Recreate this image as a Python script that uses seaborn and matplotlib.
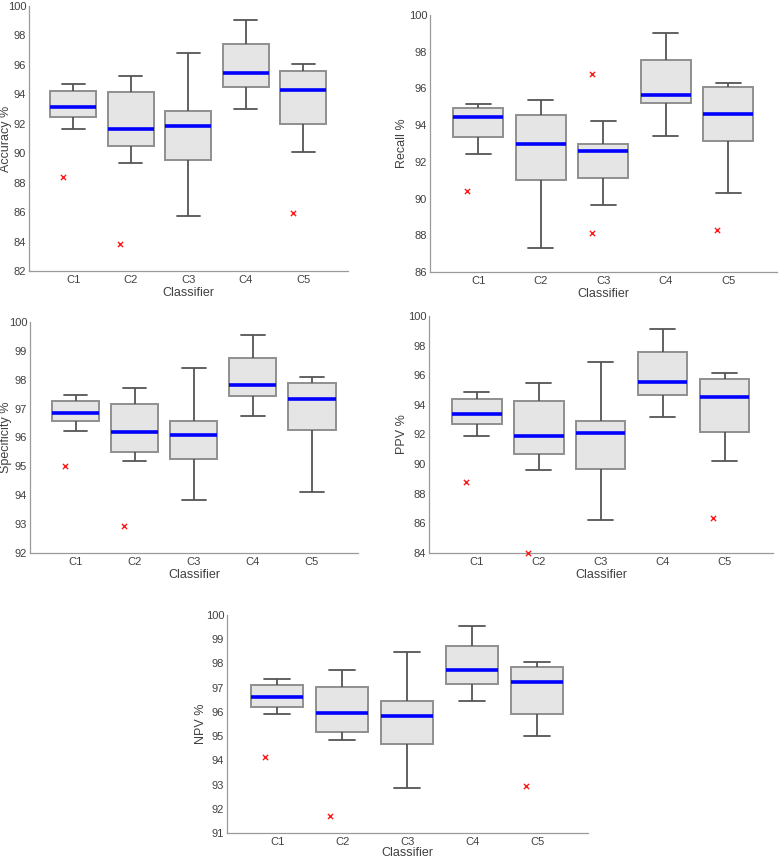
import numpy as np
import pandas as pd
import matplotlib
matplotlib.use("Agg")
import matplotlib.pyplot as plt
import seaborn as sns

sns.set_style("white")
plt.rcParams['font.family'] = ['Liberation Sans Narrow', 'Liberation Sans', 'DejaVu Sans']

classifiers = ["C1", "C2", "C3", "C4", "C5"]

# five-number summaries: [whisker low, q1, median, q3, whisker high]
acc_stats = [[91.65, 92.48, 93.16, 94.23, 94.70],
             [89.34, 90.49, 91.65, 94.16, 95.25],
             [85.71, 89.52, 91.83, 92.87, 96.81],
             [92.98, 94.50, 95.47, 97.44, 99.07],
             [90.11, 91.96, 94.32, 95.59, 96.04]]
acc_out_cls = ["C1", "C2", "C5"]
acc_out_val = [88.39, 83.81, 85.94]

rec_stats = [[92.44, 93.37, 94.43, 94.92, 95.14],
             [87.29, 91.01, 92.97, 94.54, 95.39],
             [89.64, 91.12, 92.57, 92.99, 94.23],
             [93.43, 95.19, 95.65, 97.54, 99.00],
             [90.31, 93.15, 94.59, 96.07, 96.29]]
rec_out_cls = ["C1", "C3", "C3", "C5"]
rec_out_val = [90.39, 96.80, 88.11, 88.31]

spe_stats = [[96.24, 96.56, 96.86, 97.27, 97.47],
             [95.18, 95.50, 96.20, 97.17, 97.70],
             [93.82, 95.25, 96.10, 96.56, 98.42],
             [96.74, 97.42, 97.82, 98.75, 99.55],
             [94.12, 96.25, 97.33, 97.89, 98.10]]
spe_out_cls = ["C1", "C2"]
spe_out_val = [95.00, 92.94]

ppv_stats = [[91.91, 92.70, 93.38, 94.41, 94.86],
             [89.59, 90.69, 91.93, 94.28, 95.45],
             [86.21, 89.68, 92.11, 92.90, 96.91],
             [93.17, 94.66, 95.57, 97.54, 99.12],
             [90.22, 92.18, 94.50, 95.72, 96.17]]
ppv_out_cls = ["C1", "C2", "C5"]
ppv_out_val = [88.80, 84.02, 86.39]

npv_stats = [[95.92, 96.20, 96.61, 97.09, 97.34],
             [94.82, 95.19, 95.95, 97.04, 97.71],
             [92.87, 94.67, 95.84, 96.43, 98.46],
             [96.47, 97.15, 97.71, 98.70, 99.56],
             [95.00, 95.92, 97.23, 97.84, 98.04]]
npv_out_cls = ["C1", "C2", "C5"]
npv_out_val = [94.13, 91.69, 92.96]

# label, stats, outliers, y range, tick step, axes box in px (x0, y0, x1, y1),
# y-label centre x in px, x-label pad
panels = [
    ("Accuracy %", acc_stats, acc_out_cls, acc_out_val, (82, 100), 2, [29, 6, 348, 271], 6, 1),
    ("Recall %", rec_stats, rec_out_cls, rec_out_val, (86, 100), 2, [430, 15, 777, 272], 402, 1),
    ("Specificity %", spe_stats, spe_out_cls, spe_out_val, (92, 100), 1, [30, 322, 358, 553], 6, 1),
    ("PPV %", ppv_stats, ppv_out_cls, ppv_out_val, (84, 100), 2, [429, 316, 773, 553], 402, 1),
    ("NPV %", npv_stats, npv_out_cls, npv_out_val, (91, 100), 1, [227, 615, 588, 833], 201, 0),
]

W, H = 780, 861
fig = plt.figure(figsize=(W / 100, H / 100), dpi=100)

txt = '#404040'
spine_c = '#9a9a9a'

for label, stats, out_cls, out_val, ylim, step, (x0, y0, x1, y1), lab_x, xpad in panels:
    ax = fig.add_axes([x0 / W, 1 - y1 / H, (x1 - x0) / W, (y1 - y0) / H])
    df = pd.DataFrame({
        "Classifier": np.repeat(classifiers, 5),
        "value": np.ravel(stats),
    })
    sns.boxplot(data=df, x="Classifier", y="value", order=classifiers,
                whis=(0, 100), width=0.8, color='#e5e5e5', linecolor='#555555',
                linewidth=1.3, fliersize=0,
                medianprops=dict(color='#0000ff', linewidth=2.6),
                ax=ax)
    for p in ax.patches:
        p.set_edgecolor('#8f8f8f')
        p.set_linewidth(1.4)

    out_x = [classifiers.index(c) - 0.18 for c in out_cls]
    sns.scatterplot(x=out_x, y=out_val, marker='x', color='#ff1a1a', s=14,
                    linewidth=1.0, zorder=5, clip_on=False, ax=ax)

    ax.set_xlim(-0.77, 4.78)
    ax.set_ylim(*ylim)
    ax.set_yticks(np.arange(ylim[0], ylim[1] + 0.1, step))
    ax.set_xticks(range(len(classifiers)))
    ax.set_xticklabels(classifiers)
    ax.set_xlabel("Classifier", fontsize=9, color=txt, labelpad=xpad)
    ax.set_ylabel(label, fontsize=9, color=txt, va='center')
    ax.yaxis.set_label_coords((lab_x - x0) / (x1 - x0), 0.5)
    ax.tick_params(axis='both', direction='in', length=3, width=0.8,
                   colors=spine_c, labelcolor=txt, labelsize=8)
    ax.tick_params(axis='y', pad=2)
    ax.tick_params(axis='x', pad=3)
    for s in ['top', 'right']:
        ax.spines[s].set_visible(False)
    for s in ['left', 'bottom']:
        ax.spines[s].set_color(spine_c)
        ax.spines[s].set_linewidth(0.9)

fig.savefig("out.png", dpi=100, facecolor='white')
